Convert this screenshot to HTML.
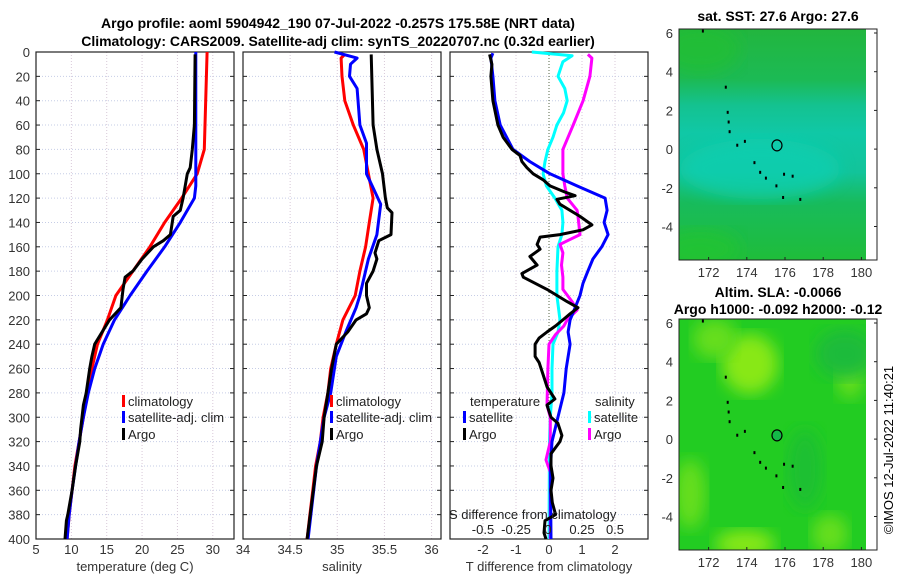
<!DOCTYPE html>
<html><head><meta charset="utf-8">
<style>
body{margin:0;background:#fff;}
svg text{font-family:"Liberation Sans","DejaVu Sans",sans-serif;}
</style></head>
<body>
<svg id="fig" width="900" height="580" viewBox="0 0 900 580" xmlns="http://www.w3.org/2000/svg">
<defs>
<linearGradient id="sstg" x1="0" y1="0" x2="0" y2="1">
<stop offset="0" stop-color="#22b63e"/>
<stop offset="0.22" stop-color="#1cba55"/>
<stop offset="0.33" stop-color="#14c290"/>
<stop offset="0.45" stop-color="#10c8a6"/>
<stop offset="0.62" stop-color="#12c49a"/>
<stop offset="0.75" stop-color="#18bb5c"/>
<stop offset="1" stop-color="#1fbd3a"/>
</linearGradient>
<filter id="blur"><feGaussianBlur stdDeviation="8"/></filter>
<clipPath id="m1clip"><rect x="679" y="29" width="187" height="231"/></clipPath>
<clipPath id="m2clip"><rect x="679" y="319" width="187" height="231"/></clipPath>
</defs>
<text x="338" y="28" text-anchor="middle" font-size="14" font-weight="bold">Argo profile: aoml 5904942_190 07-Jul-2022 -0.257S 175.58E (NRT data)</text>
<text x="338" y="46" text-anchor="middle" font-size="14" font-weight="bold">Climatology: CARS2009. Satellite-adj clim: synTS_20220707.nc (0.32d earlier)</text>
<g id="charts"></g>
<g id="maps"></g>
<text transform="translate(893,450) rotate(-90)" text-anchor="middle" font-size="13">©IMOS 12-Jul-2022 11:40:21</text>
</svg>
<script>
// ---------- data ----------
const depthTicks = [0,20,40,60,80,100,120,140,160,180,200,220,240,260,280,300,320,340,360,380,400];
const tempTicks = [5,10,15,20,25,30];
const salTicks = [34,34.5,35,35.5,36];
const salTickLabels = ["34","34.5","35","35.5","36"];
const diffTicks = [-2,-1,0,1,2];
const sDiffTickLabels = ["-0.5","-0.25","0","0.25","0.5"];
const sDiffTickValues = [-0.5,-0.25,0,0.25,0.5];

const tClimDepth = [0,80,100,120,140,160,180,200,220,240,260,280,300,320,340,360,380,400];
const tClim = [29.2,28.8,27.8,25.6,23.2,21.1,18.7,16.3,15.1,13.7,12.9,12.2,11.7,11.1,10.5,10.1,9.7,9.4];
const tSatDepth = [0,100,110,120,140,160,180,200,220,240,260,280,300,320,340,360,380,400];
const tSat = [27.6,27.6,27.6,27.4,25.4,23.2,20.7,18.3,16.1,14.5,13.3,12.4,11.7,11.1,10.6,10.1,9.7,9.4];
const tArgoDepth = [2,60,80,95,100,120,130,135,150,155,160,170,180,185,195,200,210,220,240,250,260,280,290,310,320,340,360,380,385,400];
const tArgo = [27.5,27.4,27.1,26.8,26.4,25.8,25.4,24.4,24.0,23.0,21.6,20.0,18.7,17.6,17.3,17.2,17.0,15.4,13.3,12.9,12.6,12.1,11.7,11.3,11.2,10.6,10.1,9.5,9.3,9.1];

const sClimDepth = [2,5,20,40,60,80,100,120,140,160,180,200,220,240,260,280,300,320,340,360,380,400];
const sClim = [35.08,35.04,35.05,35.08,35.17,35.28,35.33,35.38,35.34,35.30,35.24,35.19,35.06,34.99,34.93,34.90,34.85,34.82,34.77,34.74,34.71,34.68];
const sSatDepth = [0,5,10,20,30,60,75,100,110,125,150,170,190,200,210,230,250,280,300,340,400];
const sSat = [34.97,35.21,35.14,35.13,35.21,35.24,35.31,35.31,35.37,35.46,35.42,35.33,35.27,35.24,35.20,35.09,34.99,34.93,34.86,34.78,34.69];
const sArgoDepth = [2,60,80,100,120,128,132,150,155,165,170,180,190,200,210,215,220,230,240,260,280,300,320,340,400];
const sArgo = [35.36,35.38,35.42,35.48,35.51,35.53,35.58,35.57,35.44,35.40,35.42,35.38,35.31,35.31,35.34,35.31,35.20,35.11,34.99,34.94,34.90,34.86,34.84,34.78,34.68];

const dTSatDepth = [1,5,20,40,60,80,90,100,110,120,130,140,150,160,170,180,190,200,210,220,230,240,260,280,300,320,340,360,400];
const dTSat = [-1.7,-1.76,-1.7,-1.64,-1.48,-1.09,-0.58,0.03,0.85,1.7,1.76,1.67,1.79,1.6,1.33,1.18,1.03,0.94,0.79,0.64,0.58,0.64,0.52,0.45,0.27,0.09,0.05,0.05,0.06];
const dTArgoDepth = [2,10,20,40,60,70,80,85,90,95,100,105,110,115,118,121,125,135,142,146,150,152,158,162,168,175,182,185,195,205,210,215,220,225,230,235,240,250,255,265,275,285,290,300,305,315,320,330,340,350,360,370,380,385,395,400];
const dTArgo = [-1.8,-1.73,-1.76,-1.7,-1.55,-1.39,-1.12,-0.88,-0.82,-0.67,-0.48,-0.18,0.03,0.48,0.79,0.24,0.33,0.94,1.3,1.03,0.33,-0.27,-0.36,-0.27,-0.58,-0.36,-0.82,-0.78,-0.06,0.55,0.88,0.64,0.42,0.2,-0.06,-0.3,-0.42,-0.42,-0.3,-0.18,-0.06,0.18,-0.06,0.06,0.27,0.39,0.33,0.06,0.06,0.12,0.06,0.1,0.2,-0.12,-0.15,-0.09];
// salinity differences (psu); plotted on the T-difference axis scaled x4
const dSSatDepth = [0,3,8,15,20,30,40,50,60,70,80,90,100,110,120,130,140,150,160,180,200,220,230,240,260,280,300,320,400];
const dSSat = [-0.13,0.175,0.105,0.083,0.068,0.12,0.138,0.11,0.06,0.03,-0.008,-0.03,-0.045,-0.02,0.045,0.098,0.105,0.098,0.068,0.06,0.06,0.083,0.068,0.03,0.023,0.023,0.01,0.004,0.0];
const dSArgoDepth = [2,5,20,40,60,80,100,110,120,130,135,150,155,158,165,175,185,195,205,212,220,225,232,240,260,290,300,320,335,345,400];
const dSArgo = [0.295,0.325,0.31,0.258,0.183,0.105,0.105,0.12,0.138,0.213,0.22,0.235,0.14,0.083,0.105,0.095,0.105,0.105,0.175,0.213,0.138,0.113,0.05,0.0,-0.008,-0.015,0.01,0.01,-0.023,0.01,0.01];

// ---------- helpers ----------
const NS = "http://www.w3.org/2000/svg";
const Y0 = 52, Y1 = 539;
const yScale = d => Y0 + (d/400)*(Y1-Y0);
function mk(tag, attrs, parent){
  const e = document.createElementNS(NS, tag);
  for (const k in attrs) e.setAttribute(k, attrs[k]);
  parent.appendChild(e);
  return e;
}
const charts = document.getElementById('charts');

const panels = [
  {name:'temperature', x0:36, x1:234, lo:5, hi:33},
  {name:'salinity', x0:243, x1:441, lo:34, hi:36.1},
  {name:'difference', x0:450, x1:648, lo:-3, hi:3}
];
function xs(p){ return v => p.x0 + (v-p.lo)/(p.hi-p.lo)*(p.x1-p.x0); }

function drawPanel(p, xticks, xlabels, title){
  const g = mk('g', {}, charts);
  
  
  const X = xs(p);
  depthTicks.forEach(d => {
    const l = mk('line', {x1:p.x0, x2:p.x1, y1:yScale(d), y2:yScale(d), stroke:'#c6cde6', 'stroke-width':1, 'stroke-dasharray':'1,2'}, g);
    
    
  });
  xticks.forEach((v,i) => {
    const isZero = (p.name==='difference' && v===0);
    const l = mk('line', {x1:X(v), x2:X(v), y1:Y0, y2:Y1, stroke: isZero ? '#556644' : '#d8c8d8', 'stroke-width':1, 'stroke-dasharray':'1,2'}, g);
    
    
    const t = mk('text', {x:X(v), y:554, 'text-anchor':'middle', 'font-size':13, fill:'#333'}, g);
    t.textContent = xlabels[i];
    
    
  });
  const box = mk('rect', {x:p.x0, y:Y0, width:p.x1-p.x0, height:Y1-Y0, fill:'none', stroke:'#222', 'stroke-width':1.2}, g);
  
  
  depthTicks.forEach(d => {
    mk('line', {x1:p.x0, x2:p.x0+4, y1:yScale(d), y2:yScale(d), stroke:'#222'}, g);
    mk('line', {x1:p.x1-4, x2:p.x1, y1:yScale(d), y2:yScale(d), stroke:'#222'}, g);
    if (p.name==='temperature'){
      const t = mk('text', {x:30, y:yScale(d)+5, 'text-anchor':'end', 'font-size':13, fill:'#333'}, g);
      t.textContent = d;
      
      
    }
  });
  const tt = mk('text', {x:(p.x0+p.x1)/2, y:571, 'text-anchor':'middle', 'font-size':13, fill:'#333'}, g);
  tt.textContent = title;
  
  
  return g;
}
function line(p, g, depths, vals, color, name, scale){
  const X = xs(p);
  const s = scale || 1;
  const pts = depths.map((d,i) => X(vals[i]*s).toFixed(1)+','+yScale(d).toFixed(1)).join(' ');
  const pl = mk('polyline', {points:pts, fill:'none', stroke:color, 'stroke-width':3, 'stroke-linejoin':'round'}, g);
  
  
}
function legendEntry(g, x, y, color, label){
  const e = mk('g', {}, g);
  
  
  mk('rect', {x:x, y:y-11, width:3, height:12, fill:color}, e);
  const t = mk('text', {x:x+6, y:y, 'font-size':13, fill:'#222'}, e);
  t.textContent = label;
}

const g1 = drawPanel(panels[0], tempTicks, tempTicks.map(String), 'temperature (deg C)');
line(panels[0], g1, tClimDepth, tClim, '#ff0000', 'climatology-temp-line');
line(panels[0], g1, tSatDepth, tSat, '#0000ff', 'satellite-temp-line');
line(panels[0], g1, tArgoDepth, tArgo, '#000000', 'argo-temp-line');
legendEntry(g1, 122, 406, '#ff0000', 'climatology');
legendEntry(g1, 122, 422, '#0000ff', 'satellite-adj. clim');
legendEntry(g1, 122, 439, '#000000', 'Argo');

const g2 = drawPanel(panels[1], salTicks, salTickLabels, 'salinity');
line(panels[1], g2, sClimDepth, sClim, '#ff0000', 'climatology-salinity-line');
line(panels[1], g2, sSatDepth, sSat, '#0000ff', 'satellite-salinity-line');
line(panels[1], g2, sArgoDepth, sArgo, '#000000', 'argo-salinity-line');
legendEntry(g2, 330, 406, '#ff0000', 'climatology');
legendEntry(g2, 330, 422, '#0000ff', 'satellite-adj. clim');
legendEntry(g2, 330, 439, '#000000', 'Argo');

const g3 = drawPanel(panels[2], diffTicks, diffTicks.map(String), 'T difference from climatology');
line(panels[2], g3, dSSatDepth, dSSat, '#00ffff', 'satellite-s-diff-line', 4);
line(panels[2], g3, dSArgoDepth, dSArgo, '#ff00ff', 'argo-s-diff-line', 4);
line(panels[2], g3, dTSatDepth, dTSat, '#0000ff', 'satellite-t-diff-line');
line(panels[2], g3, dTArgoDepth, dTArgo, '#000000', 'argo-t-diff-line');
{
  const t1 = mk('text', {x:470, y:406, 'font-size':13, fill:'#222'}, g3); t1.textContent='temperature';
  
  
  const t2 = mk('text', {x:595, y:406, 'font-size':13, fill:'#222'}, g3); t2.textContent='salinity';
  
  
  legendEntry(g3, 463, 422, '#0000ff', 'satellite');
  legendEntry(g3, 463, 439, '#000000', 'Argo');
  legendEntry(g3, 588, 422, '#00ffff', 'satellite');
  legendEntry(g3, 588, 439, '#ff00ff', 'Argo');
  const st = mk('text', {x:449, y:519, 'font-size':13, fill:'#222'}, g3); st.textContent='S difference from climatology';
  
  
  const X = xs(panels[2]);
  sDiffTickValues.forEach((v,i) => {
    const t = mk('text', {x:X(v*4)+(v===0?-1:0), y:534, 'text-anchor':'middle', 'font-size':13, fill:'#222'}, g3);
    t.textContent = sDiffTickLabels[i];
    
    
  });
}

// ---------- maps ----------
const lonTicks = [172,174,176,178,180];
const latTicks = [6,4,2,0,-2,-4];
const islandLon = [171.7,172.9,173.0,173.05,173.1,173.5,173.9,174.4,174.7,175.0,175.55,175.95,176.4,176.8,175.9];
const islandLat = [6.1,3.2,1.9,1.4,0.9,0.2,0.4,-0.7,-1.2,-1.5,-1.9,-1.3,-1.4,-2.6,-2.5];
const argoLon = [175.58];
const argoLat = [-0.257+0.45];
const maps = document.getElementById('maps');
function drawMap(top, title1, title2, kind){
  const g = mk('g', {}, maps);
  
  
  const L = 679, R = 877, T = top, B = top+231;
  const lx = v => L + (v-170.45)*19.1;
  const ly = v => T + 4 + (6-v)*19.35;
  const inner = mk('g', {'clip-path': kind==='sst' ? 'url(#m1clip)' : 'url(#m2clip)'}, g);
  if (kind==='sst'){
    mk('rect', {x:L, y:T, width:187, height:231, fill:'url(#sstg)'}, inner);
    mk('ellipse', {cx:760, cy:T+140, rx:80, ry:30, fill:'#10d0b4', filter:'url(#blur)', opacity:0.7}, inner);
    mk('ellipse', {cx:700, cy:T+220, rx:40, ry:20, fill:'#20c430', filter:'url(#blur)', opacity:0.8}, inner);
    mk('ellipse', {cx:700, cy:T+20, rx:40, ry:25, fill:'#22c030', filter:'url(#blur)', opacity:0.7}, inner);
  } else {
    mk('rect', {x:L, y:T, width:187, height:231, fill:'#22cc22'}, inner);
    mk('ellipse', {cx:750, cy:T+45, rx:28, ry:30, fill:'#88e818', filter:'url(#blur)'}, inner);
    mk('ellipse', {cx:715, cy:T+20, rx:22, ry:20, fill:'#66de1a', filter:'url(#blur)'}, inner);
    mk('ellipse', {cx:850, cy:T+55, rx:14, ry:25, fill:'#66de1a', filter:'url(#blur)'}, inner);
    mk('ellipse', {cx:690, cy:T+175, rx:16, ry:35, fill:'#66de1a', filter:'url(#blur)'}, inner);
    mk('ellipse', {cx:745, cy:T+225, rx:30, ry:14, fill:'#88e818', filter:'url(#blur)'}, inner);
    mk('ellipse', {cx:830, cy:T+215, rx:18, ry:20, fill:'#66de1a', filter:'url(#blur)'}, inner);
    mk('ellipse', {cx:845, cy:T+35, rx:30, ry:25, fill:'#1cbb3a', filter:'url(#blur)'}, inner);
    mk('ellipse', {cx:805, cy:T+150, rx:18, ry:40, fill:'#1cc030', filter:'url(#blur)'}, inner);
  }
  mk('rect', {x:866, y:T, width:11, height:231, fill:'#fff'}, g);
  islandLon.forEach((v,i) => {
    const d = mk('rect', {x:lx(v)-1, y:ly(islandLat[i])-1.5, width:2, height:3, fill:'#000'}, g);
    
    
  });
  argoLon.forEach((v,i) => {
    const c = mk('ellipse', {cx:lx(v), cy:ly(argoLat[i]), rx:5, ry:5.5, fill: kind==='sst' ? 'none' : '#14b848', stroke:'#000', 'stroke-width':1.2}, g);
    
    
  });
  const box = mk('rect', {x:L, y:T, width:R-L, height:B-T, fill:'none', stroke:'#222', 'stroke-width':1}, g);
  
  
  lonTicks.forEach(v => {
    mk('line', {x1:lx(v), x2:lx(v), y1:B, y2:B-3, stroke:'#222'}, g);
    const t = mk('text', {x:lx(v), y:B+17, 'text-anchor':'middle', 'font-size':13, fill:'#333'}, g);
    t.textContent = v;
    
    
  });
  latTicks.forEach(v => {
    mk('line', {x1:R, x2:R-3, y1:ly(v), y2:ly(v), stroke:'#222'}, g);
    const t = mk('text', {x:673, y:ly(v)+5, 'text-anchor':'end', 'font-size':13, fill:'#333'}, g);
    t.textContent = v;
    
    
  });
  const t1 = mk('text', {x:778, y: title2 ? T-22 : T-8, 'text-anchor':'middle', 'font-size':14, 'font-weight':'bold'}, g);
  t1.textContent = title1;
  
  
  if (title2){
    const t2 = mk('text', {x:778, y:T-5, 'text-anchor':'middle', 'font-size':14, 'font-weight':'bold'}, g);
    t2.textContent = title2;
    
    
  }
}
drawMap(29, 'sat. SST: 27.6 Argo: 27.6', null, 'sst');
drawMap(319, 'Altim. SLA: -0.0066', 'Argo h1000: -0.092 h2000: -0.12', 'sla');
</script>
</body></html>
